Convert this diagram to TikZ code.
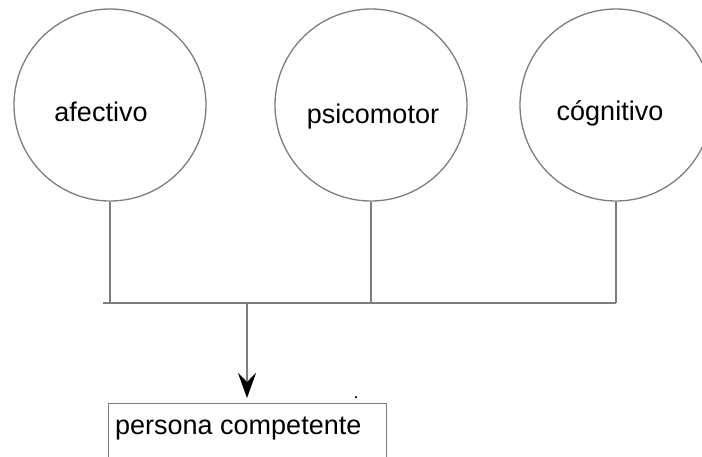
\documentclass[tikz,border=0pt]{standalone}
\usepackage{fontspec}
\setmainfont{Liberation Sans}
\usetikzlibrary{arrows.meta}
\definecolor{linegray}{RGB}{125,125,125}
\begin{document}
\begin{tikzpicture}[x=1pt,y=-1pt,
  ring/.style={draw=linegray,line width=1.3pt,circle,minimum size=192pt,inner sep=0pt},
  lbl/.style={font=\fontsize{27}{31}\selectfont,inner sep=0pt,text=black},
  wire/.style={draw=linegray,line width=1.3pt},
  tipstyle/.style={-{Stealth[length=25pt,width=18pt,inset=9pt,color=black]}},
  ]
\useasboundingbox (0,0) rectangle (702,456);
\clip (0,0) rectangle (702,456);
% circles
\node[ring] (c1) at (110,105) {};
\node[ring] (c2) at (371,105) {};
\node[ring] (c3) at (616,105) {};
% labels
\node[lbl] (t1) at (101,112) {afectivo};
\node[lbl] (t2) at (373,117) {psicomotor};
\node[lbl] (t3) at (610,113) {cógnitivo};
% bus
\coordinate (busL) at (103,303);
\coordinate (busA) at (247,303);
\draw[wire] (c1.south) -- (c1.south |- busL);
\draw[wire] (c2.south) -- (c2.south |- busL);
\draw[wire] (c3.south) -- (c3.south |- busL);
\draw[wire] (busL) -- (c3.south |- busL);
% result box
\node[draw=linegray,line width=1.3pt,minimum width=278pt,minimum height=80pt,inner sep=0pt,anchor=north west] (box) at (108,403) {};
\node[lbl,anchor=base west] (t4) at (115,434) {persona competente};
\draw[wire,tipstyle,shorten >=5pt] (busA) -- (busA |- box.north);
% small dot
\node[circle,fill=black,inner sep=0pt,minimum size=2.5pt] (dot) at (356,397) {};
\end{tikzpicture}
\end{document}
